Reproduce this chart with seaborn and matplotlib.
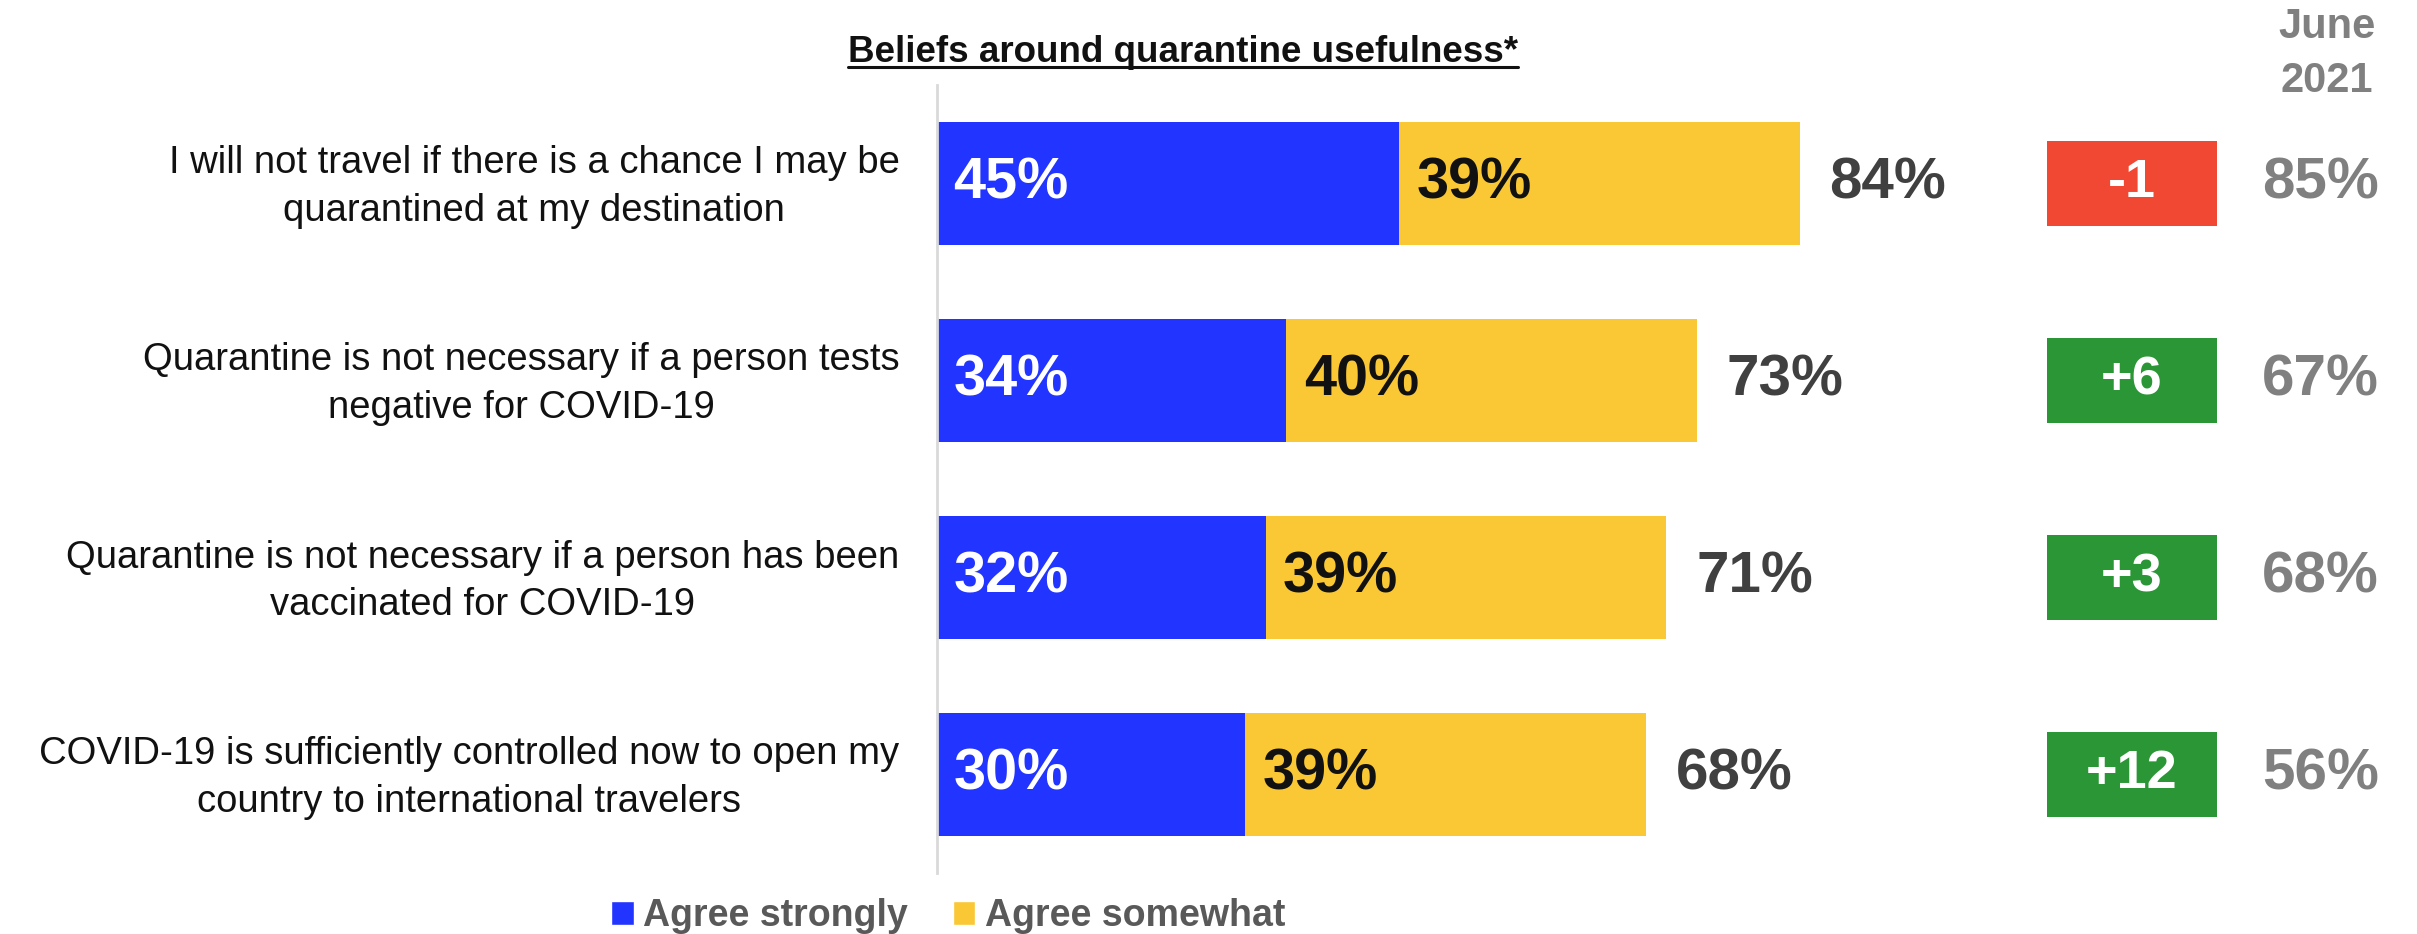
import numpy as np
import pandas as pd
import matplotlib
matplotlib.use("Agg")
import matplotlib.pyplot as plt
from matplotlib.patches import Patch
from matplotlib.lines import Line2D
from matplotlib.transforms import ScaledTranslation
import seaborn as sns

# data
statements = [
    "I will not travel if there is a chance I may be\nquarantined at my destination",
    "Quarantine is not necessary if a person tests\nnegative for COVID-19",
    "Quarantine is not necessary if a person has been\nvaccinated for COVID-19",
    "COVID-19 is sufficiently controlled now to open my\ncountry to international travelers",
]
agree_strongly = [45, 34, 32, 30]
agree_somewhat = [39, 40, 39, 39]
total_agree = [84, 73, 71, 68]
june_2021 = [85, 67, 68, 56]

BLUE = "#2234FF"
YELLOW = "#F9C834"
RED = "#F04833"
GREEN = "#2A9635"

df = pd.DataFrame({
    "statement": statements,
    "strongly": agree_strongly,
    "somewhat": agree_somewhat,
    "total": total_agree,
    "june": june_2021,
})
df["stack"] = df["strongly"] + df["somewhat"]
df["change"] = df["total"] - df["june"]

sns.set_style("white")
plt.rcParams["font.family"] = ["Liberation Sans", "DejaVu Sans"]

fig = plt.figure(figsize=(24.17, 9.34), dpi=100)
ax = fig.add_axes([937 / 2417, 1 - 873 / 934, 1 - 937 / 2417, (873 - 85) / 934])

# stacked bars: full stack in yellow, strongly on top in blue
sns.barplot(data=df, y="statement", x="stack", orient="h", color=YELLOW,
            saturation=1, width=0.625, linewidth=0, ax=ax)
sns.barplot(data=df, y="statement", x="strongly", orient="h", color=BLUE,
            saturation=1, width=0.625, linewidth=0, ax=ax)

pos = np.arange(len(df))

# change boxes vs June 2021
box_left, box_w = 108.1, 16.5
box_colors = [RED if c < 0 else GREEN for c in df["change"]]
ax.barh(pos, box_w, left=box_left, height=0.43, color=box_colors, linewidth=0)

for i, row in df.iterrows():
    ax.text(1.6, i, f"{row['strongly']}%", color="white", fontsize=41.5,
            fontweight="bold", va="center", ha="left")
    ax.text(row["strongly"] + 1.7, i, f"{row['somewhat']}%", color="#111111",
            fontsize=41.5, fontweight="bold", va="center", ha="left")
    ax.text(row["stack"] + 2.9, i, f"{row['total']}%", color="#404040",
            fontsize=42, fontweight="bold", va="center", ha="left")
    ch = row["change"]
    ax.text(box_left + box_w / 2, i, f"{ch:+d}", color="white", fontsize=39,
            fontweight="bold", va="center", ha="center")
    ax.text(134.7, i, f"{row['june']}%", color="#808080", fontsize=42,
            fontweight="bold", va="center", ha="center")

ax.set_xlim(0, 144.1)
ax.set_ylim(3.5, -0.5)
ax.set_xlabel("")
ax.set_ylabel("")
ax.set_xticks([])
ax.set_yticks(pos)
ax.set_yticklabels(df["statement"], fontsize=27.5, color="#111111",
                   ha="right", multialignment="center", linespacing=1.4)
ax.tick_params(axis="y", length=0, pad=27)
# labels sit a little above the bar centre in the original
shift = ScaledTranslation(0, 0.06, fig.dpi_scale_trans)
for lab in ax.get_yticklabels():
    lab.set_transform(lab.get_transform() + shift)
for side in ["top", "right", "bottom"]:
    ax.spines[side].set_visible(False)
ax.spines["left"].set_color("#d9d9d9")
ax.spines["left"].set_linewidth(2)

# title with underline
title = fig.text(1183 / 2417, 1 - 62 / 934, "Beliefs around quarantine usefulness*",
                 fontsize=26.5, fontweight="bold", color="#111111",
                 ha="center", va="baseline")
fig.canvas.draw()
bb = title.get_window_extent().transformed(fig.transFigure.inverted())
uy = 1 - 67 / 934
fig.add_artist(Line2D([bb.x0, bb.x1], [uy, uy], transform=fig.transFigure,
                      color="#111111", linewidth=2.2))

# June 2021 header
fig.text(2327 / 2417, 1 - 38 / 934, "June", fontsize=30, fontweight="bold",
         color="#808080", ha="center", va="baseline")
fig.text(2327 / 2417, 1 - 92 / 934, "2021", fontsize=30, fontweight="bold",
         color="#808080", ha="center", va="baseline")

# legend
handles = [Patch(facecolor=BLUE, label="Agree strongly"),
           Patch(facecolor=YELLOW, label="Agree somewhat")]
leg = fig.legend(handles=handles, loc="center", bbox_to_anchor=(948 / 2417, 1 - 916 / 934),
                 ncol=2, frameon=False, fontsize=27, handlelength=0.6, handleheight=0.6,
                 handletextpad=0.25, columnspacing=1.2, borderaxespad=0, borderpad=0)
for t in leg.get_texts():
    t.set_color("#595959")
    t.set_fontweight("bold")

fig.savefig("out.png", dpi=100)
plt.close(fig)
